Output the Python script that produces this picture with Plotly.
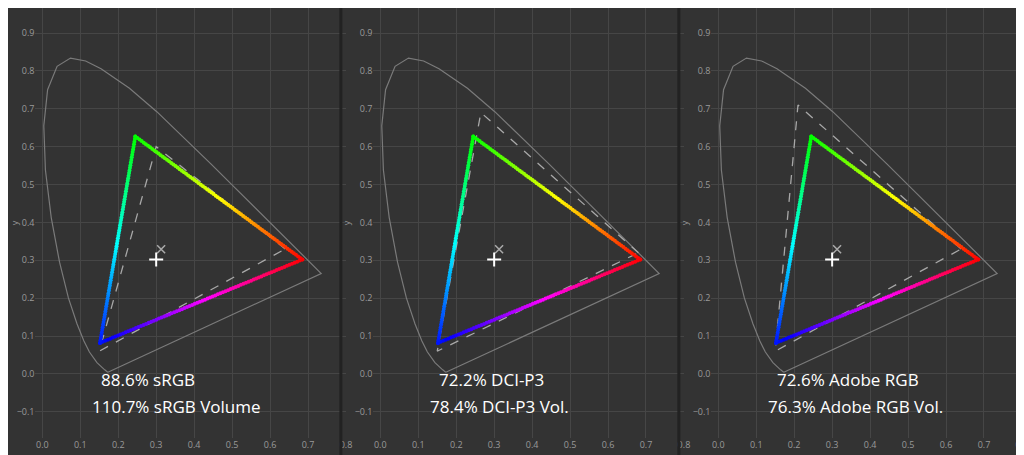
import numpy as np
import plotly.graph_objects as go

# CIE 1931 spectral locus (x, y)
locus_x = [0.1741,0.1714,0.1644,0.1566,0.1440,0.1241,0.1096,0.0913,0.0687,0.0454,0.0235,0.0082,0.0039,0.0139,0.0389,0.0743,0.1142,0.1547,0.2296,0.3016,0.3731,0.4441,0.5125,0.5752,0.6270,0.6915,0.7190,0.7347,0.1741]
locus_y = [0.0050,0.0051,0.0109,0.0177,0.0297,0.0578,0.0868,0.1327,0.2007,0.2950,0.4127,0.5384,0.6548,0.7502,0.8120,0.8338,0.8262,0.8059,0.7543,0.6923,0.6245,0.5547,0.4866,0.4242,0.3725,0.3083,0.2809,0.2653,0.0050]

# measured gamut (R, G, B)
meas_x = [0.685, 0.245, 0.152]
meas_y = [0.302, 0.627, 0.082]
meas_white = (0.300, 0.302)
ref_white = (0.313, 0.329)

# reference gamuts (R, G, B)
ref_names = ["sRGB", "DCI-P3", "Adobe RGB"]
ref_x = [[0.64, 0.30, 0.15], [0.68, 0.265, 0.15], [0.64, 0.21, 0.15]]
ref_y = [[0.33, 0.60, 0.06], [0.32, 0.69, 0.06], [0.33, 0.71, 0.06]]
line1 = ["88.6% sRGB", "72.2% DCI-P3", "72.6% Adobe RGB"]
line2 = ["110.7% sRGB Volume", "78.4% DCI-P3 Vol.", "76.3% Adobe RGB Vol."]

BG = "#333333"
GRID = "#464646"
TICK = "#9a9a9a"

doms = [[0.027, 0.332], [0.359, 0.664], [0.691, 0.996]]
fig = go.Figure()

edges = [(1, 0, 120, 0), (0, 2, 360, 235), (2, 1, 235, 120)]

def hsl(h):
    return f"hsl({h % 360:.0f},100%,50%)"

for i in range(3):
    xa = "x" if i == 0 else f"x{i+1}"
    ya = "y" if i == 0 else f"y{i+1}"
    fig.add_trace(go.Scatter(x=locus_x, y=locus_y, mode="lines",
                             line=dict(color="#7a7a7a", width=1.2), xaxis=xa, yaxis=ya, hoverinfo="skip"))
    rx = ref_x[i] + [ref_x[i][0]]
    ry = ref_y[i] + [ref_y[i][0]]
    fig.add_trace(go.Scatter(x=rx, y=ry, mode="lines",
                             line=dict(color="#a8a8a8", width=1.3, dash="dash"), xaxis=xa, yaxis=ya))
    for a, b, h0, h1 in edges:
        t = np.linspace(0, 1, 80)
        px = meas_x[a] + (meas_x[b] - meas_x[a]) * t
        py = meas_y[a] + (meas_y[b] - meas_y[a]) * t
        cols = [hsl(h0 + (h1 - h0) * s) for s in t]
        fig.add_trace(go.Scatter(x=px, y=py, mode="markers",
                                 marker=dict(color=cols, size=4, line=dict(width=0)),
                                 xaxis=xa, yaxis=ya))
    fig.add_trace(go.Scatter(x=[ref_white[0]], y=[ref_white[1]], mode="markers",
                             marker=dict(symbol="x-thin", size=8, line=dict(color="#aaaaaa", width=1.5)),
                             xaxis=xa, yaxis=ya))
    fig.add_trace(go.Scatter(x=[meas_white[0]], y=[meas_white[1]], mode="markers",
                             marker=dict(symbol="cross-thin", size=10, line=dict(color="#ffffff", width=2)),
                             xaxis=xa, yaxis=ya))
    axcommon = dict(showgrid=True, gridcolor=GRID, gridwidth=1, zeroline=False,
                    tickfont=dict(size=9, color=TICK, family="Open Sans"), dtick=0.1,
                    tickformat=".1f", showline=False, ticks="")
    fig.layout[("xaxis" if i == 0 else f"xaxis{i+1}")] = dict(
        axcommon, domain=doms[i], range=[-0.018, 0.80], anchor=ya,
        title=dict(text="x", font=dict(size=9, color=TICK), standoff=0))
    fig.layout[("yaxis" if i == 0 else f"yaxis{i+1}")] = dict(
        axcommon, domain=[0.055, 1], range=[-0.169, 0.966], anchor=xa,
        title=dict(text="y", font=dict(size=9, color=TICK), standoff=2))
    fig.add_annotation(x=0.15, y=-0.015, xref=xa, yref=ya, text=line1[i], showarrow=False,
                       xanchor="left", yanchor="middle", font=dict(size=17, color="white", family="Open Sans"))
    fig.add_annotation(x=0.125, y=-0.085, xref=xa, yref=ya, text=line2[i], showarrow=False,
                       xanchor="left", yanchor="middle", font=dict(size=17, color="white", family="Open Sans"))

for xp in [0.327, 0.659]:
    fig.add_shape(type="line", xref="paper", yref="paper", x0=xp, x1=xp, y0=-0.1, y1=1.1,
                  line=dict(color="#222222", width=3))

fig.update_layout(width=1024, height=455, margin=dict(l=0, r=0, t=0, b=0),
                  paper_bgcolor=BG, plot_bgcolor=BG, showlegend=False)
fig.write_html("out.html")
